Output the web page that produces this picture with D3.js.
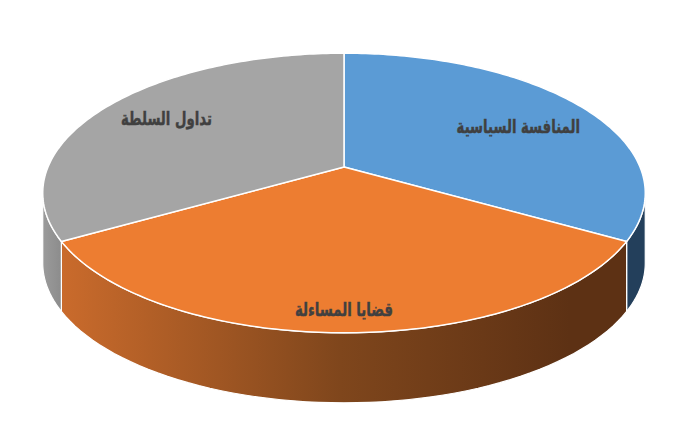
<!DOCTYPE html>
<html>
<head>
<meta charset="utf-8">
<script src="https://cdn.jsdelivr.net/npm/d3@7"></script>
<style>
  body { margin: 0; background: #fff; }
  .sliceLabel { font-family: "DejaVu Sans", sans-serif; font-weight: bold; fill: #404040; stroke: #404040; stroke-width: 0.4; }
</style>
</head>
<body>
<div id="chart"></div>
<script>
// chart data
var categories = ["المنافسة السياسية", "قضايا المساءلة", "تداول السلطة"];
var values = [33.3, 33.3, 33.3];
var topColors = ["#5b9bd5", "#ed7d31", "#a5a5a5"];

var svgWidth = 700;
var svgHeight = 429;

// 3d pie geometry (perspective squashed circle)
var cx = 344, cy = 167;
var sx = 296, sy = 135;
var persp = -0.186;
var depth = 70;
// label placement: radius fraction and angle shift (degrees)
var labelR = [0.7, 0.885, 0.75];
var labelShift = [3, 0, 1];

function project(theta, r) {
  var u = r * Math.sin(theta);
  var v = -r * Math.cos(theta);
  var w = 1 + persp * v;
  return [cx + sx * u / w, cy + sy * v / w];
}

var svg = d3.select("#chart")
  .append("svg")
  .attr("width", svgWidth)
  .attr("height", svgHeight);

var defs = svg.append("defs");
var og = defs.append("linearGradient")
  .attr("id", "orangeSide")
  .attr("gradientUnits", "userSpaceOnUse")
  .attr("x1", 60).attr("x2", 570).attr("y1", 0).attr("y2", 0);
og.append("stop").attr("offset", "0%").attr("stop-color", "#ca6b2c");
og.append("stop").attr("offset", "55%").attr("stop-color", "#7f461c");
og.append("stop").attr("offset", "100%").attr("stop-color", "#5d3114");

var gg = defs.append("linearGradient")
  .attr("id", "graySide")
  .attr("gradientUnits", "userSpaceOnUse")
  .attr("x1", 44).attr("x2", 70).attr("y1", 0).attr("y2", 0);
gg.append("stop").attr("offset", "0%").attr("stop-color", "#9a9a9a");
gg.append("stop").attr("offset", "100%").attr("stop-color", "#858585");

var sideFills = ["#233f5b", "url(#orangeSide)", "url(#graySide)"];

var pie = d3.pie().sort(null).value(d => d).startAngle(0).endAngle(2 * Math.PI);
var arcs = pie(values);

var line = d3.line();

// visible front range of the rim
var edgeA = Math.acos(persp);            // right extreme
var edgeB = 2 * Math.PI - edgeA;          // left extreme

function steps(a0, a1, n) {
  return d3.range(n + 1).map(i => a0 + (a1 - a0) * i / n);
}

// sides
var sideData = arcs.map(function(d, i) {
  var a0 = Math.max(d.startAngle, edgeA);
  var a1 = Math.min(d.endAngle, edgeB);
  if (a1 <= a0) return null;
  var ts = steps(a0, a1, 60);
  var topPts = ts.map(t => project(t, 1));
  var botPts = ts.slice().reverse().map(t => {
    var p = project(t, 1);
    return [p[0], p[1] + depth];
  });
  return { pts: topPts.concat(botPts), i: i };
}).filter(d => d);

svg.append("g").selectAll("path")
  .data(sideData)
  .enter()
  .append("path")
  .attr("d", d => line(d.pts) + "Z")
  .attr("fill", d => sideFills[d.i])
  .attr("stroke", "#fff")
  .attr("stroke-width", 1.2)
  .attr("stroke-linejoin", "round");

// top faces
svg.append("g").selectAll("path")
  .data(arcs)
  .enter()
  .append("path")
  .attr("d", function(d) {
    var pts = [[cx, cy]].concat(steps(d.startAngle, d.endAngle, 120).map(t => project(t, 1)));
    return line(pts) + "Z";
  })
  .attr("fill", (d, i) => topColors[i])
  .attr("stroke", "#fff")
  .attr("stroke-width", 1.5)
  .attr("stroke-linejoin", "round");

// labels (squeezed to match the narrower original face)
svg.append("g").selectAll("text")
  .data(arcs)
  .enter()
  .append("text")
  .attr("class", "sliceLabel")
  .attr("font-size", 17)
  .attr("text-anchor", "middle")
  .attr("dominant-baseline", "central")
  .attr("direction", "rtl")
  .attr("transform", function(d, i) {
    var p = project((d.startAngle + d.endAngle) / 2 + labelShift[i] * Math.PI / 180, labelR[i]);
    return `translate(${p[0]}, ${p[1]}) scale(0.78, 1.12)`;
  })
  .text((d, i) => categories[i]);
</script>
</body>
</html>
